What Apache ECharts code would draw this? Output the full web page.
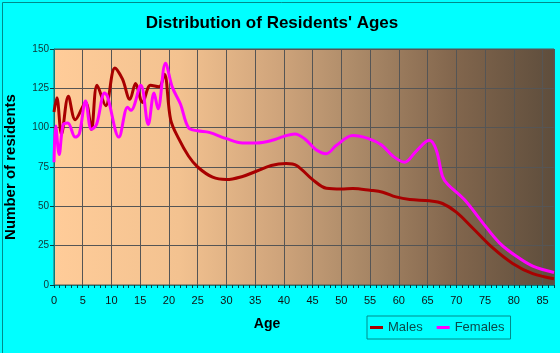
<!DOCTYPE html>
<html>
<head>
<meta charset="utf-8">
<script src="https://cdn.jsdelivr.net/npm/echarts@6/dist/echarts.min.js"></script>
<style>
  html, body { margin: 0; padding: 0; background: #00ffff; }
  #chart { width: 560px; height: 353px; }
</style>
</head>
<body>
<div id="chart"></div>
<script>
// age ticks / value ticks
var ageTicks = [0, 5, 10, 15, 20, 25, 30, 35, 40, 45, 50, 55, 60, 65, 70, 75, 80, 85];
var residentTicks = [0, 25, 50, 75, 100, 125, 150];

// males (age, residents)
var maleAges = [0, 0.5, 1.3, 2.5, 3.7, 5.5, 6.5, 7.5, 9, 10.6, 11.9, 13.2, 14.2, 15.4, 16.8, 18.3, 19.2, 20.3, 21.7, 23.4, 25, 27.6, 30, 32.8, 35.2, 37.8, 40.4, 42.2, 45, 47.4, 50, 52, 55, 57.2, 59.5, 61.9, 65.3, 67.6, 70, 72.8, 76.3, 79.8, 83.3, 87];
var maleVals = [110, 119, 96, 120, 105, 116, 99, 127, 114, 138, 131, 118, 128, 116, 127, 126, 134, 105, 93, 82, 75, 68.5, 67, 69, 72.3, 76, 77.2, 76, 67, 61.5, 61, 61.3, 60.2, 59, 56, 54.3, 53.5, 51.8, 46.3, 36.4, 23.7, 13.7, 7.2, 4];

// females
var femaleAges = [0, 0.3, 0.9, 1.6, 2.4, 3.7, 4.4, 5.5, 6.5, 7.4, 8.8, 9.3, 11.3, 12.8, 13.4, 15.1, 16.4, 17.4, 18.1, 19.4, 20.6, 22, 23.4, 25, 27, 30, 32.8, 35.2, 37.8, 40, 41.9, 43.6, 45.6, 47.4, 49.1, 52, 54.6, 57, 59, 61, 63, 65.3, 66.5, 67.6, 68.5, 71.4, 74.6, 77.5, 80.4, 83.3, 87];
var femaleVals = [78, 101, 83, 102, 103, 94, 96, 117, 99, 102, 122, 120, 94, 113, 111, 127, 102, 122, 112, 141, 125.6, 115, 100, 98, 97, 93, 90.3, 90.3, 91.8, 94.5, 96, 93, 86, 83.5, 88.6, 95, 93.2, 89, 81.8, 78, 85, 92, 86, 69, 64, 54.3, 39.5, 26.8, 18.4, 12, 8];

function pairs(xs, ys) {
    var out = [];
    for (var i = 0; i < xs.length; i++) {
        out.push([xs[i], ys[i]]);
    }
    return out;
}

var chart = echarts.init(document.getElementById('chart'));
chart.setOption({
    backgroundColor: '#00ffff',
    animation: false,
    graphic: [
        {
            type: 'rect', left: 0, top: 0, silent: true,
            shape: { x: 0.5, y: 0.5, width: 559, height: 352 },
            style: { fill: 'none', stroke: '#008b8b', lineWidth: 1 }
        },
        {
            type: 'text', x: 272, y: 23,
            style: {
                text: "Distribution of Residents' Ages",
                fontFamily: 'Liberation Sans, Arial', fontSize: 17, fontWeight: 'bold',
                fill: '#000', align: 'center', verticalAlign: 'middle'
            }
        },
        {
            type: 'text', x: 267, y: 324,
            style: {
                text: 'Age',
                fontFamily: 'Liberation Sans, Arial', fontSize: 14, fontWeight: 'bold',
                fill: '#000', align: 'center', verticalAlign: 'middle'
            }
        }
    ],
    legend: {
        left: 367, top: 316,
        padding: [5, 6, 5, 3],
        itemGap: 14,
        itemWidth: 13, itemHeight: 3,
        icon: 'rect',
        borderColor: '#008b8b', borderWidth: 1,
        textStyle: { fontFamily: 'Liberation Sans, Arial', fontSize: 13, color: '#0a4a4a' },
        data: ['Males', 'Females']
    },
    grid: {
        left: 54, right: 6, top: 49, bottom: 68,
        outerBoundsMode: 'none',
        containLabel: false,
        show: true,
        borderColor: '#555', borderWidth: 1,
        backgroundColor: {
            type: 'linear', x: 0, y: 0, x2: 1, y2: 0,
            colorStops: [
                { offset: 0, color: '#ffcc99' },
                { offset: 0.25, color: '#f3c290' },
                { offset: 0.45, color: '#cfa47b' },
                { offset: 0.6, color: '#ad8b69' },
                { offset: 0.8, color: '#82664d' },
                { offset: 1, color: '#5e4d3c' }
            ]
        }
    },
    xAxis: {
        type: 'value',
        min: 0, max: 87, interval: 5,
        axisLine: { show: true, lineStyle: { color: '#008080', width: 1 } },
        axisTick: { show: true, length: 3, lineStyle: { color: '#004040' } },
        minorTick: { show: true, splitNumber: 5, length: 3, lineStyle: { color: '#004040' } },
        splitLine: { show: true, lineStyle: { color: '#555', width: 1 } },
        axisLabel: {
            margin: 10,
            fontFamily: 'Liberation Sans, Arial', fontSize: 11, color: '#111',
            customValues: ageTicks
        }
    },
    yAxis: {
        type: 'value',
        min: 0, max: 150, interval: 25,
        name: 'Number of residents',
        nameLocation: 'middle',
        nameGap: 36,
        nameTextStyle: { fontFamily: 'Liberation Sans, Arial', fontSize: 15, fontWeight: 'bold', color: '#000' },
        axisLine: { show: true, lineStyle: { color: '#008080', width: 1 } },
        axisTick: { show: true, length: 4, lineStyle: { color: '#004040' } },
        splitLine: { show: true, lineStyle: { color: '#555', width: 1 } },
        axisLabel: {
            margin: 5,
            fontFamily: 'Liberation Sans, Arial', fontSize: 10, color: '#113333',
            customValues: residentTicks
        }
    },
    series: [
        {
            name: 'Males', type: 'line',
            data: pairs(maleAges, maleVals),
            smooth: 0.35, showSymbol: false,
            lineStyle: { color: '#a80000', width: 3 },
            itemStyle: { color: '#a80000' }
        },
        {
            name: 'Females', type: 'line',
            data: pairs(femaleAges, femaleVals),
            smooth: 0.35, showSymbol: false,
            lineStyle: { color: '#ff00ff', width: 3 },
            itemStyle: { color: '#ff00ff' }
        }
    ]
});
</script>
</body>
</html>
